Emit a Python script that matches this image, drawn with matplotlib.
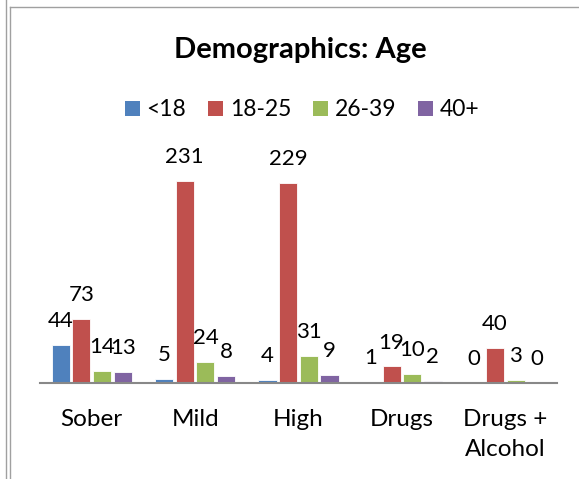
import matplotlib
matplotlib.use("Agg")
import matplotlib.pyplot as plt
from matplotlib.patches import Patch
from matplotlib.lines import Line2D
import numpy as np

categories = ["Sober", "Mild", "High", "Drugs", "Drugs +\nAlcohol"]
series_names = ["<18", "18-25", "26-39", "40+"]
under18 = [44, 5, 4, 1, 0]
age18_25 = [73, 231, 229, 19, 40]
age26_39 = [14, 24, 31, 10, 3]
age40p = [13, 8, 9, 2, 0]
series_values = [under18, age18_25, age26_39, age40p]
colors = ["#4F81BD", "#C0504D", "#9BBB59", "#8064A2"]

plt.rcParams['font.family'] = ['Lato', 'DejaVu Sans']

fig = plt.figure(figsize=(5.79, 4.79), dpi=100)
W, H = 579, 479
ax = fig.add_axes([40 / W, (H - 383) / H, (557 - 40) / W, 227 / H])

x = np.arange(len(categories))
step = 0.2
bw = 0.175
for j, (name, vals, c) in enumerate(zip(series_names, series_values, colors)):
    bars = ax.bar(x + (j - 1.5) * step, vals, width=bw, color=c, label=name,
                  edgecolor="white", linewidth=0.6)
    ax.bar_label(bars, labels=[str(v) for v in vals], padding=10, fontsize=16)

ax.set_xlim(-0.5, len(categories) - 0.5)
ax.set_ylim(0, 260)
ax.set_yticks([])
for s in ["left", "right", "top"]:
    ax.spines[s].set_visible(False)
ax.spines["bottom"].set_color("#888888")
ax.spines["bottom"].set_linewidth(1.5)
ax.set_xticks(x)
ax.set_xticklabels(categories, fontsize=17.5, linespacing=1.55)
ax.tick_params(axis="x", length=0, pad=18.5)
ax.patch.set_visible(False)

fig.text(300 / W, 1 - 50 / H, "Demographics: Age", ha="center", va="center",
         fontsize=21, fontweight="bold")

handles = [Patch(facecolor=c, edgecolor="none") for c in colors]
fig.legend(handles, series_names, loc="center", bbox_to_anchor=(302 / W, 1 - 110 / H),
           ncol=4, frameon=False, fontsize=16.5, handlelength=0.65, handleheight=0.65,
           handletextpad=0.3, columnspacing=0.95, borderaxespad=0)

# frame lines
fig.add_artist(Line2D([6 / W, 6 / W], [0, 1], transform=fig.transFigure, color="#A0A0A0", lw=1))
fig.add_artist(Line2D([10 / W, 10 / W], [0, 1 - 7 / H], transform=fig.transFigure, color="#A0A0A0", lw=1))
fig.add_artist(Line2D([10 / W, 1], [1 - 7 / H, 1 - 7 / H], transform=fig.transFigure, color="#A0A0A0", lw=1))

fig.savefig("out.png", dpi=100)
